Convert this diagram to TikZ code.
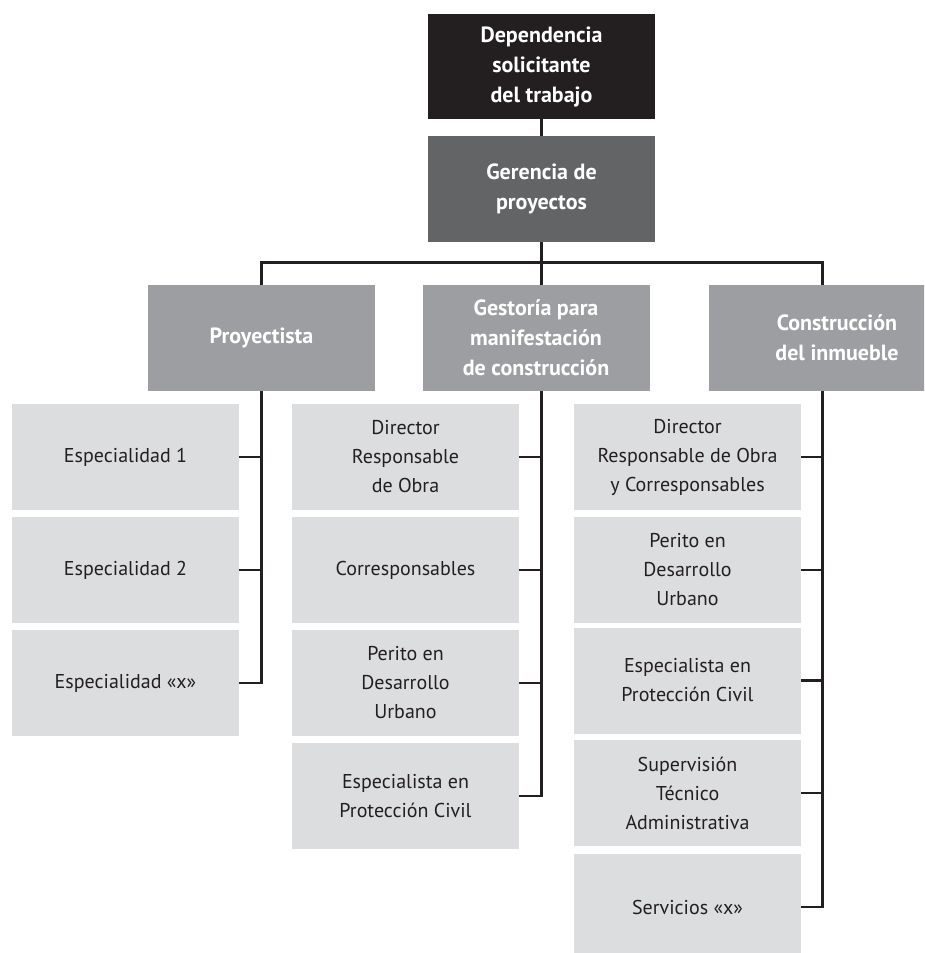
\documentclass[tikz,border=0pt]{standalone}
\usepackage{fontspec}
\setmainfont{PT Sans}
\definecolor{ink}{HTML}{231F20}
\definecolor{darkbox}{HTML}{636466}
\definecolor{midbox}{HTML}{9D9EA1}
\definecolor{lightbox}{HTML}{DCDDDF}
\tikzset{
  box/.style={inner sep=0pt, minimum width=227pt, minimum height=106pt, align=center,
    font=\fontsize{20}{29}\selectfont, text=ink, fill=lightbox},
  headbox/.style={box, text=white, font=\fontsize{22}{30}\selectfont\bfseries},
  conn/.style={draw=ink, line width=2.8pt, line join=miter}
}
\begin{document}
\begin{tikzpicture}[x=1pt,y=-1pt]
\useasboundingbox (0,0) rectangle (924,953);
\clip (0,0) rectangle (924,953);
\fill[white] (0,0) rectangle (924,953);
% top levels
\node[headbox, fill=ink, minimum height=105pt] (dep) at (541.5,66.5) {Dependencia\\solicitante\\del trabajo};
\node[headbox, fill=darkbox] (ger) at (541.5,189) {Gerencia de\\proyectos};
% second level
\node[headbox, fill=midbox] (proy) at (261.5,338) {Proyectista};
\node[headbox, fill=midbox] (gest) at (536,338) {Gestoría para\\manifestación\\de construcción};
\node[headbox, fill=midbox, minimum width=256pt] (cons) at (837,338) {Construcción\\del inmueble};
\coordinate (c3) at (822.5,262.5);
% column 1
\node[box] (e1) at (125.5,457) {Especialidad 1};
\node[box] (e2) at (125.5,570) {Especialidad 2};
\node[box] (e3) at (125.5,683) {Especialidad «x»};
% column 2
\node[box] (g1) at (405.5,457) {Director\\Responsable\\de Obra};
\node[box] (g2) at (405.5,570) {Corresponsables};
\node[box] (g3) at (405.5,683) {Perito en\\Desarrollo\\Urbano};
\node[box] (g4) at (405.5,796) {Especialista en\\Protección Civil};
% column 3
\node[box] (k1) at (687.5,457) {Director\\Responsable de Obra\\y Corresponsables};
\node[box] (k2) at (687.5,570) {Perito en\\Desarrollo\\Urbano};
\node[box] (k3) at (687.5,680.5) {Especialista en\\Protección Civil};
\node[box] (k4) at (687.5,793) {Supervisión\\Técnico\\Administrativa};
\node[box] (k5) at (687.5,907) {Servicios «x»};
% connectors
\draw[conn] (dep.south) -- (ger.north);
\draw[conn] (ger.south) -- (ger.south |- gest.north);
\draw[conn] (proy.north) -- (proy.north |- c3) -- (c3) -- (c3 |- cons.north);
\draw[conn] (proy.south) -- (proy.south |- e3.east) -- (e3.east);
\draw[conn] (e1.east) -- (e1.east -| proy.south);
\draw[conn] (e2.east) -- (e2.east -| proy.south);
\draw[conn] (ger.south |- gest.south) -- (ger.south |- g4.east) -- (g4.east);
\draw[conn] (g1.east) -- (g1.east -| ger.south);
\draw[conn] (g2.east) -- (g2.east -| ger.south);
\draw[conn] (g3.east) -- (g3.east -| ger.south);
\draw[conn] (c3 |- cons.south) -- (c3 |- k5.east) -- (k5.east);
\draw[conn] (k1.east) -- (k1.east -| c3);
\draw[conn] (k2.east) -- (k2.east -| c3);
\draw[conn] (k3.east) -- (k3.east -| c3);
\draw[conn] (k4.east) -- (k4.east -| c3);
\end{tikzpicture}
\end{document}
